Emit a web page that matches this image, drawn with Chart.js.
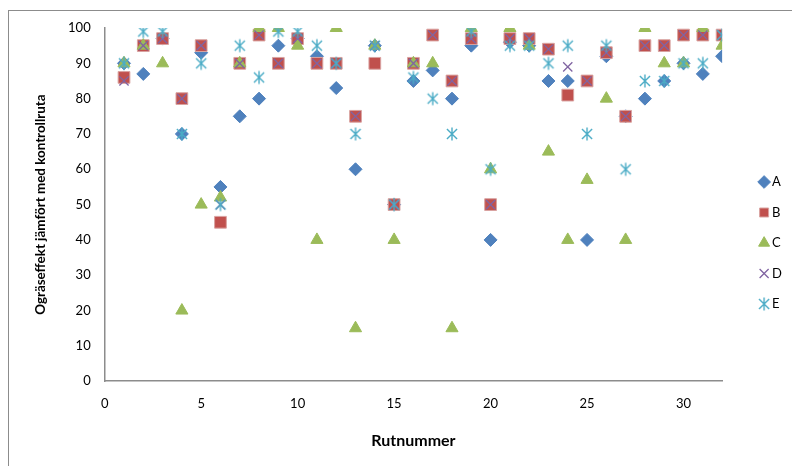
<!DOCTYPE html>
<html>
<head>
<meta charset="utf-8">
<script src="https://cdn.jsdelivr.net/npm/chart.js@4"></script>
<style>
  html, body { margin: 0; padding: 0; background: #fff; }
  #wrap { position: relative; width: 792px; height: 466px; overflow: hidden; }
  #frame { position: absolute; left: 8px; top: 10px; width: 800px; height: 470px;
           border-left: 1px solid #8c8c8c; border-top: 1px solid #8c8c8c; }
  canvas { position: absolute; left: 0; top: 0; }
</style>
</head>
<body>
<div id="wrap">
  <div id="frame"></div>
  <canvas id="weedChart" width="792" height="466"></canvas>
</div>
<script>
// Rutnummer (x) and ogräseffekt per behandling (y)
const rutor = [1,2,3,4,5,6,7,8,9,10,11,12,13,14,15,16,17,18,19,20,21,22,23,24,25,26,27,28,29,30,31,32];
const serieA = [90,87,97,70,93,55,75,80,95,97,92,83,60,95,50,85,88,80,95,40,96,95,85,85,40,92,75,80,85,90,87,92];
const serieB = [86,95,97,80,95,45,90,98,90,97,90,90,75,90,50,90,98,85,97,50,97,97,94,81,85,93,75,95,95,98,98,98];
const serieC = [90,95,90,20,50,52,90,100,100,95,40,100,15,95,40,90,90,15,100,60,100,95,65,40,57,80,40,100,90,90,100,95];
const serieD = [85,95,97,80,95,50,90,98,90,97,90,90,75,95,50,90,98,85,97,50,97,97,94,89,85,93,75,95,95,98,98,98];
const serieE = [90,99,99,70,90,50,95,86,99,99,95,90,70,95,50,86,80,70,99,60,95,95,90,95,70,95,60,85,85,90,90,98];
const xTicks = [0,5,10,15,20,25,30];
const yTicks = [0,10,20,30,40,50,60,70,80,90,100];

// Excel-style asterisk: X with a vertical bar
function asterisk(color, r) {
    const c = document.createElement('canvas');
    const s = Math.ceil(r * 2 + 3);
    c.width = s; c.height = s;
    const g = c.getContext('2d');
    const m = s / 2;
    const d = r * 0.78;
    g.strokeStyle = color;
    g.lineWidth = 1.4;
    g.beginPath();
    g.moveTo(m, m - r); g.lineTo(m, m + r);
    g.moveTo(m - d, m - d); g.lineTo(m + d, m + d);
    g.moveTo(m + d, m - d); g.lineTo(m - d, m + d);
    g.stroke();
    return c;
}

const toPoints = (ys) => ys.map((y, i) => ({ x: rutor[i], y: y }));

document.addEventListener('DOMContentLoaded', function() {
    const ctx = document.getElementById('weedChart');
    const font = "Lato, 'Open Sans', sans-serif";

    new Chart(ctx, {
        type: 'scatter',
        data: {
            datasets: [
                { label: 'A', data: toPoints(serieA), order: 5, pointStyle: 'rectRot', pointRadius: 6.5,
                  backgroundColor: '#4F81BD', borderColor: '#4F81BD', borderWidth: 1 },
                { label: 'B', data: toPoints(serieB), order: 4, pointStyle: 'rect', pointRadius: 8.3,
                  backgroundColor: '#C0504D', borderColor: '#D9A3A1', borderWidth: 1 },
                { label: 'C', data: toPoints(serieC), order: 3, pointStyle: 'triangle', pointRadius: 7,
                  backgroundColor: '#9BBB59', borderColor: '#9BBB59', borderWidth: 1 },
                { label: 'D', data: toPoints(serieD), order: 2, pointStyle: 'crossRot', pointRadius: 6.5,
                  backgroundColor: '#8064A2', borderColor: '#8064A2', borderWidth: 1.3 },
                { label: 'E', data: toPoints(serieE), order: 1, pointStyle: asterisk('#4BACC6', 6.5), pointRadius: 6.5,
                  backgroundColor: '#4BACC6', borderColor: '#4BACC6', borderWidth: 1.3 }
            ]
        },
        options: {
            responsive: false,
            animation: false,
            layout: { padding: { left: 29, top: 28, right: 0, bottom: 8 } },
            plugins: {
                tooltip: { enabled: false },
                legend: {
                    position: 'right',
                    labels: {
                        usePointStyle: true,
                        boxWidth: 3,
                        boxHeight: 9,
                        padding: 17.5,
                        color: '#000',
                        font: { family: font, size: 13 },
                        sort: (a, b) => a.datasetIndex - b.datasetIndex
                    }
                }
            },
            scales: {
                x: {
                    type: 'linear',
                    min: 0,
                    max: 32,
                    afterBuildTicks: (axis) => { axis.ticks = xTicks.map(v => ({ value: v })); },
                    grid: { display: false, drawTicks: false },
                    border: { display: true, color: '#8c8c8c', width: 1.5 },
                    ticks: { color: '#000', padding: 15, font: { family: font, size: 13 } },
                    title: { display: true, text: 'Rutnummer', color: '#000', padding: { top: 4, bottom: 8 },
                             font: { family: font, size: 16, weight: 'bold' } }
                },
                y: {
                    min: 0,
                    max: 100,
                    afterBuildTicks: (axis) => { axis.ticks = yTicks.map(v => ({ value: v })); },
                    grid: { display: false, drawTicks: false },
                    border: { display: true, color: '#8c8c8c', width: 1.5 },
                    ticks: { color: '#000', padding: 14, font: { family: font, size: 13 } },
                    title: { display: true, text: 'Ogräseffekt jämfört med kontrollruta', color: '#000',
                             padding: { bottom: 5 }, font: { family: font, size: 13.4, weight: 'bold' } }
                },
                // empty spacer between plot and legend
                gap: {
                    type: 'linear',
                    position: 'right',
                    grid: { display: false, drawTicks: false },
                    border: { display: false },
                    ticks: { display: false },
                    afterFit: (axis) => { axis.width = 23; }
                }
            }
        }
    });
});
</script>
</body>
</html>
